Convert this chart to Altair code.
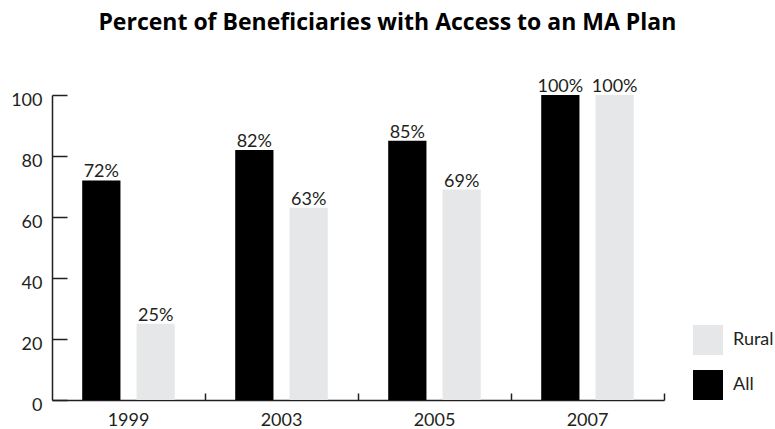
import altair as alt
import pandas as pd

years = ["1999", "2003", "2005", "2007"]
groups = ["All", "Rural"]
all_vals = [72, 82, 85, 100]
rural_vals = [25, 63, 69, 100]
y_ticks = [0, 20, 40, 60, 80, 100]

rows = []
for i, yr in enumerate(years):
    rows.append({"year": yr, "group": "All", "value": all_vals[i], "label": f"{all_vals[i]}%"})
    rows.append({"year": yr, "group": "Rural", "value": rural_vals[i], "label": f"{rural_vals[i]}%"})
df = pd.DataFrame(rows)

FONT = "Lato"
INK = "#231f20"
GRAY = "#e6e7e8"
FS = 18

xscale = alt.Scale(domain=years, paddingInner=0, paddingOuter=0)
yscale = alt.Scale(domain=[0, 100], nice=False)
xo = alt.XOffset("group:N", sort=groups,
                 scale=alt.Scale(domain=groups, paddingInner=0.296, paddingOuter=0.556))

bars = alt.Chart(df).mark_bar().encode(
    x=alt.X("year:N", scale=xscale, axis=alt.Axis(
        title=None, labelAngle=0, ticks=False, labelFontSize=FS, labelFont=FONT,
        labelColor=INK, domainColor=INK, domainWidth=1.5, labelPadding=11, grid=False)),
    xOffset=xo,
    y=alt.Y("value:Q", scale=yscale, axis=alt.Axis(
        title=None, values=y_ticks, ticks=False, labelFontSize=FS, labelFont=FONT,
        labelColor=INK, domainColor=INK, domainWidth=1.5, labelPadding=10, labelOffset=5,
        grid=False)),
    color=alt.Color("group:N", scale=alt.Scale(domain=["Rural", "All"], range=[GRAY, "#000000"]),
                    legend=alt.Legend(orient="none", legendX=641, legendY=230, title=None,
                                      symbolType="square", symbolSize=900, symbolStrokeWidth=0,
                                      labelFontSize=FS, labelFont=FONT, labelColor=INK,
                                      rowPadding=15, labelOffset=10)),
)

labels = alt.Chart(df).mark_text(baseline="alphabetic", dy=-3, fontSize=FS, font=FONT, color=INK).encode(
    x=alt.X("year:N", scale=xscale, axis=alt.Axis(
        orient="top", offset=-305, bandPosition=1, labels=False, domain=False, title=None,
        tickSize=7, tickColor=INK, tickWidth=1.5, grid=False)),
    xOffset=xo,
    y=alt.Y("value:Q", scale=yscale, axis=alt.Axis(
        orient="right", offset=-612, values=y_ticks, labels=False, domain=False, title=None,
        tickSize=15, tickColor=INK, tickWidth=1.5, grid=False)),
    text="label:N",
)

chart = alt.layer(bars, labels).resolve_axis(x="independent", y="independent").properties(
    width=612, height=305,
    title=alt.Title("Percent of Beneficiaries with Access to an MA Plan", fontSize=23,
                    font="Open Sans", fontWeight="bold", color="#000000", anchor="middle",
                    frame="bounds", offset=43, dx=-5),
    autosize=alt.AutoSizeParams(type="none"),
    padding={"left": 52, "top": 95, "right": 111, "bottom": 29},
).configure_view(stroke=None)

chart.save("out.html", embed_options={"renderer": "svg", "actions": False})
